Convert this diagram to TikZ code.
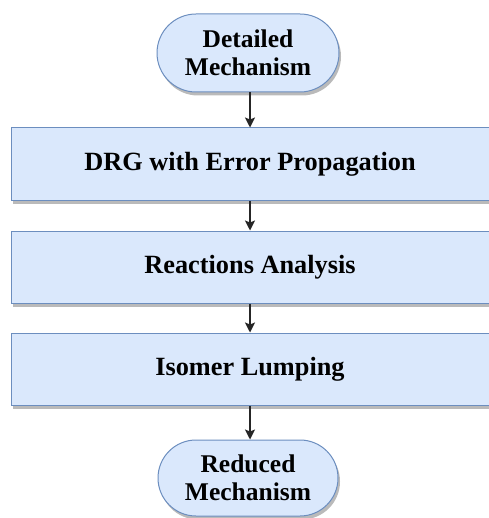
\documentclass[tikz,border=0pt]{standalone}
\usepackage{fontspec}
\setmainfont{Liberation Serif}
\usetikzlibrary{shapes.misc,shadows,arrows.meta}
\definecolor{stepfill}{HTML}{DAE8FC}
\definecolor{stepline}{HTML}{6C8EBF}
\tikzset{
  base/.style={draw=stepline, fill=stepfill, line width=1pt,
    drop shadow={shadow xshift=2pt, shadow yshift=-3.5pt, fill=black!45, opacity=0.6},
    align=center, inner sep=0pt},
  terminal/.style={base, rounded rectangle, minimum width=182pt, minimum height=78pt,
    font=\bfseries\fontsize{25.5}{28.5}\selectfont},
  stepbox/.style={base, rectangle, minimum width=478pt, minimum height=72pt,
    font=\bfseries\fontsize{26.3}{30}\selectfont},
  flow/.style={-{Stealth[length=10pt,width=10pt,inset=2pt]}, line width=1.3pt, black!85}
}
\begin{document}
\begin{tikzpicture}[x=1pt,y=-1pt]
  \useasboundingbox (0,0) rectangle (488,518);
  \node[terminal] (start) at (248,53) {Detailed\\Mechanism};
  \node[stepbox, minimum height=73pt] (drg) at (250,164.5) {DRG with Error Propagation};
  \node[stepbox] (react) at (250,267) {Reactions Analysis};
  \node[stepbox] (lump) at (250,369) {Isomer Lumping};
  \node[terminal, minimum width=180pt, minimum height=76pt] (stop) at (248,478) {Reduced\\Mechanism};
  \draw[flow] (start.south -| drg.north) -- (drg.north);
  \draw[flow] (drg) -- (react);
  \draw[flow] (react) -- (lump);
  \draw[flow] (lump.south) -- (lump.south |- stop.north);
\end{tikzpicture}
\end{document}
